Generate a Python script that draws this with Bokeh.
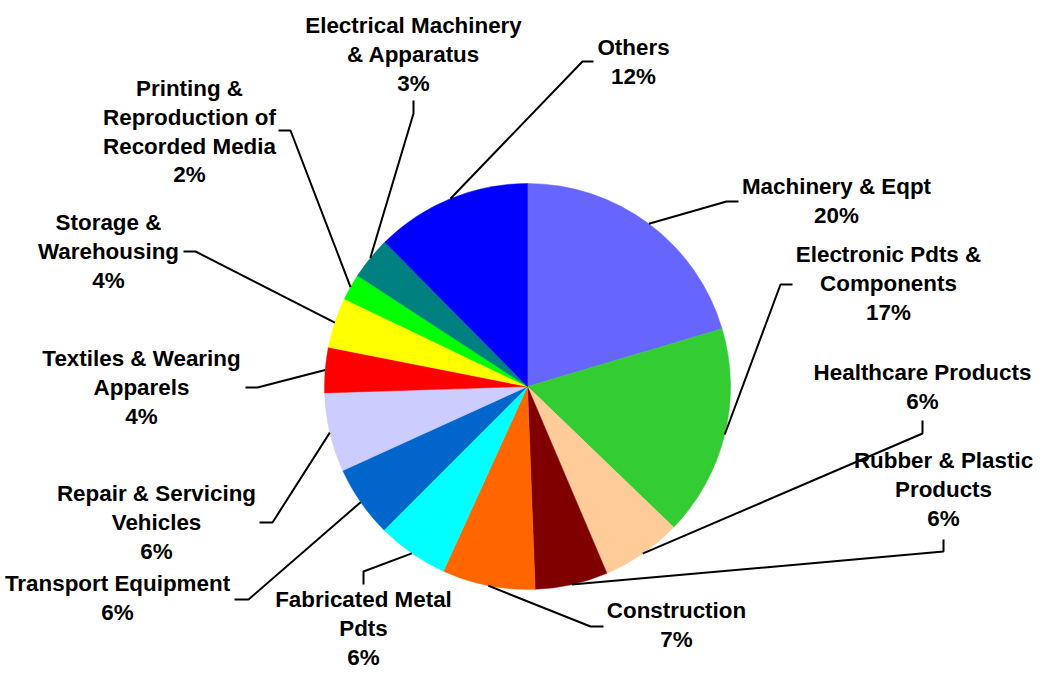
import math
from bokeh.plotting import figure
from bokeh.models import Range1d, ColumnDataSource
from bokeh.embed import file_html
from bokeh.resources import INLINE
from bokeh.core.properties import value

# ---------------- data ----------------
categories = [
    "Machinery & Eqpt", "Electronic Pdts & Components", "Healthcare Products",
    "Rubber & Plastic Products", "Construction", "Fabricated Metal Pdts",
    "Transport Equipment", "Repair & Servicing Vehicles", "Textiles & Wearing Apparels",
    "Storage & Warehousing", "Printing & Reproduction of Recorded Media",
    "Electrical Machinery & Apparatus", "Others",
]
shares = [20.4, 16.8, 6.4, 5.8, 7.4, 5.7, 5.7, 6.3, 3.6, 4.0, 2.1, 3.4, 12.4]
label_lines = [
    ["Machinery & Eqpt"],
    ["Electronic Pdts &", "Components"],
    ["Healthcare Products"],
    ["Rubber & Plastic", "Products"],
    ["Construction"],
    ["Fabricated Metal", "Pdts"],
    ["Transport Equipment"],
    ["Repair & Servicing", "Vehicles"],
    ["Textiles & Wearing", "Apparels"],
    ["Storage &", "Warehousing"],
    ["Printing &", "Reproduction of", "Recorded Media"],
    ["Electrical Machinery", "& Apparatus"],
    ["Others"],
]
colors = ["#6666FF", "#33CC33", "#FFCC99", "#800000", "#FF6600", "#00FFFF",
          "#0066CC", "#CCCCFF", "#FF0000", "#FFFF00", "#00FF00", "#008080", "#0000FF"]

# ---------------- layout (picture pixel coordinates, y downwards) ----------------
W, H = 1033, 670
CX, CY, R = 527, 386, 203
label_x = [836, 888, 922, 943, 676, 363, 117, 156, 141, 108, 189, 413, 633]
label_top = [186, 254, 372, 460, 610, 599, 583, 493, 358, 222, 88, 25, 47]
LINE_GAP = 28.8
elbow = [(726, 201), (780, 284), (922, 433), (943, 551), (590, 626), (363, 571),
         (248, 599), (272, 522), (257, 387), (195, 251), (290, 130), (413, 113), (582, 61)]
tail = [(738, 201), (792, 284), (922, 420), (943, 539), (603, 626), (363, 584),
        (234, 599), (259, 522), (245, 387), (183, 251), (278, 130), (413, 100), (593, 61)]


def Y(py):
    return H - py


p = figure(width=W, height=H, output_backend="svg", toolbar_location=None,
           x_range=Range1d(0, W), y_range=Range1d(0, H), min_border=0)
p.axis.visible = False
p.grid.visible = False
p.outline_line_color = None
p.background_fill_color = "white"
p.border_fill_color = "white"

total = sum(shares)
starts, ends, mids = [], [], []
cum = 0.0
for s in shares:
    f0 = cum / total
    cum += s
    f1 = cum / total
    starts.append(math.pi / 2 - 2 * math.pi * f0)
    ends.append(math.pi / 2 - 2 * math.pi * f1)
    mids.append(math.pi / 2 - 2 * math.pi * (f0 + f1) / 2)

src = ColumnDataSource(dict(start=starts, end=ends, color=colors, cat=categories))
p.wedge(x=CX, y=Y(CY), radius=R, start_angle="start", end_angle="end",
        direction="clock", fill_color="color", line_color="color", line_width=0.5,
        source=src)

xs, ys = [], []
for i, m in enumerate(mids):
    ex = CX + R * math.cos(m)
    ey = Y(CY) + R * math.sin(m)
    xs.append([ex, elbow[i][0], tail[i][0]])
    ys.append([ey, Y(elbow[i][1]), Y(tail[i][1])])
p.multi_line(xs=xs, ys=ys, line_color="black", line_width=2)

tx, ty, tt = [], [], []
for i, lines in enumerate(label_lines):
    pct = f"{shares[i] / total * 100:.0f}%"
    for j, line in enumerate(lines + [pct]):
        tx.append(label_x[i])
        ty.append(Y(label_top[i] + j * LINE_GAP))
        tt.append(line)
p.text(x=tx, y=ty, text=tt, text_align="center", text_baseline="middle",
       text_font=value("Liberation Sans"), text_font_style="bold",
       text_font_size="22.4px", text_color="black")

open("out.html", "w").write(file_html(p, INLINE))
